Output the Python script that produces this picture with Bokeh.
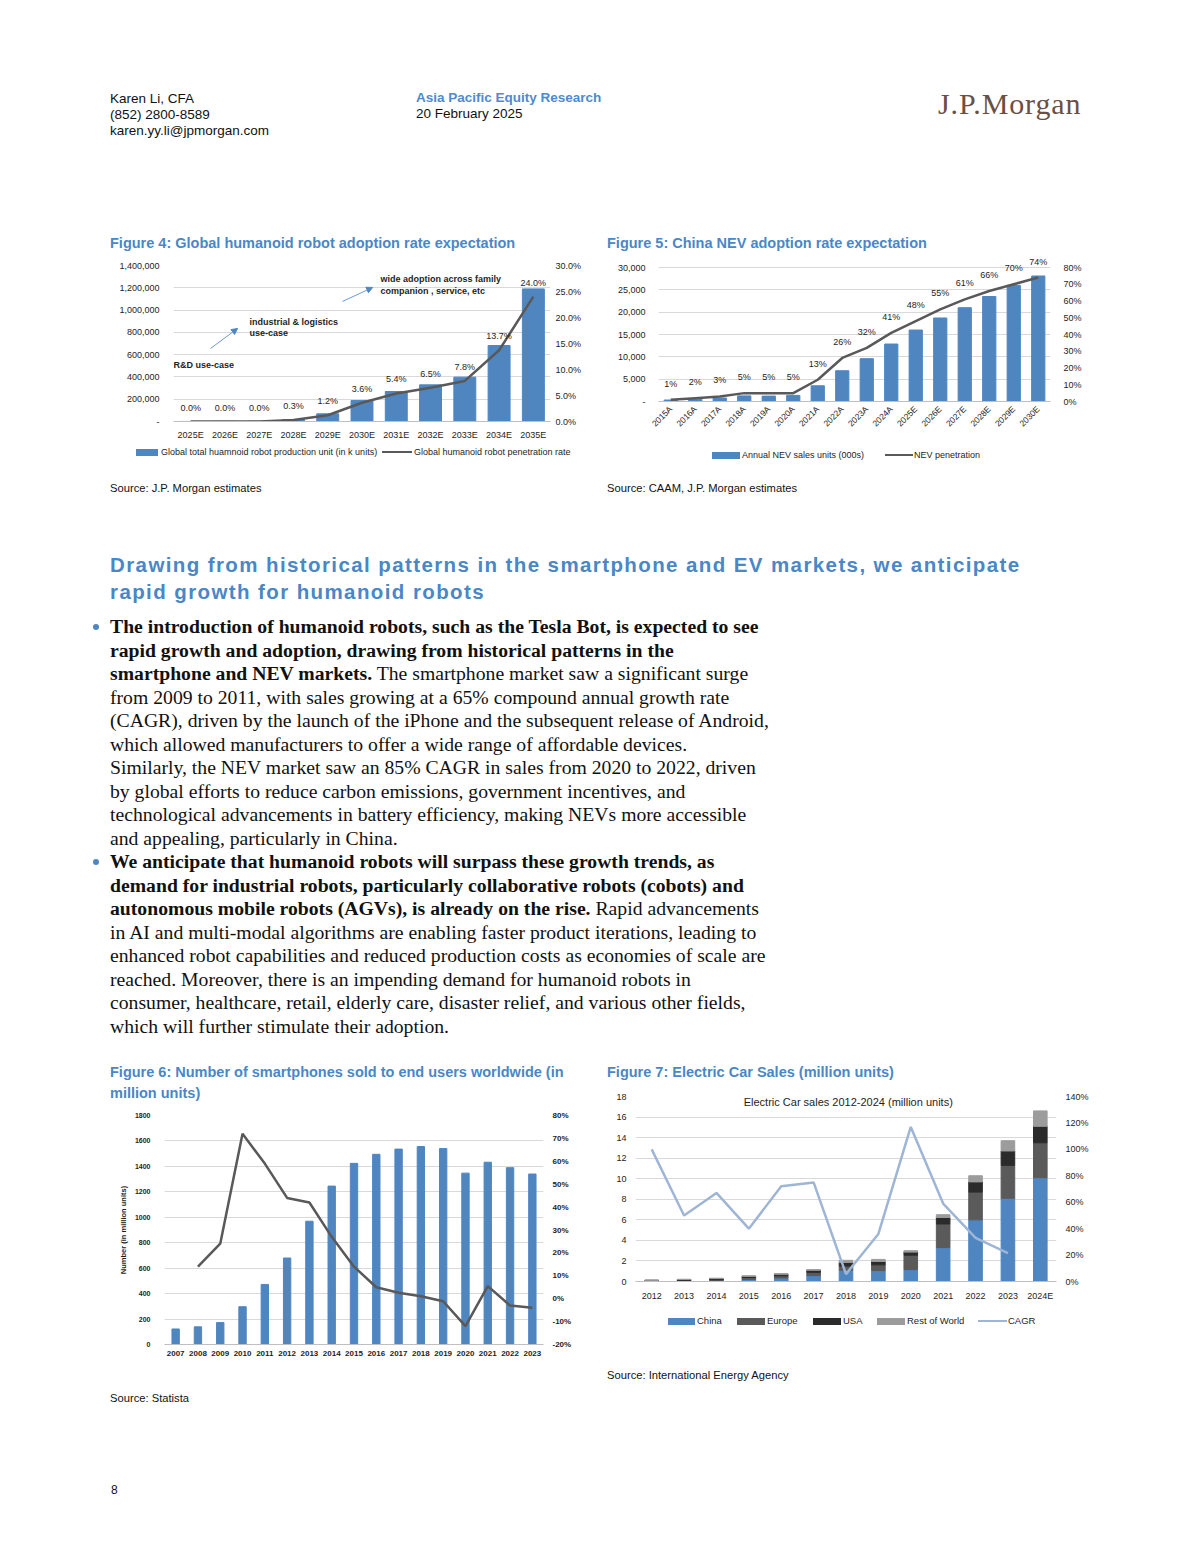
import math
from bokeh.plotting import figure
from bokeh.models import (Range1d, LinearAxis, FactorRange, ColumnDataSource, LabelSet, Label,
                          Arrow, NormalHead, Div, NumeralTickFormatter, PrintfTickFormatter, FixedTicker)
from bokeh.layouts import column, row
from bokeh.embed import file_html
from bokeh.resources import INLINE
from bokeh.core.properties import value

# ---------------- data ----------------
# Figure 4
f4_years = ["2025E", "2026E", "2027E", "2028E", "2029E", "2030E", "2031E", "2032E", "2033E", "2034E", "2035E"]
f4_units = [500, 1500, 2500, 17000, 69000, 188000, 269000, 329000, 398000, 682000, 1190000]
f4_rate = [0.0, 0.0, 0.0, 0.3, 1.2, 3.6, 5.4, 6.5, 7.8, 13.7, 24.0]
f4_left_ticks = [0, 200000, 400000, 600000, 800000, 1000000, 1200000, 1400000]
f4_right_ticks = [0, 5, 10, 15, 20, 25, 30]

# Figure 5
f5_years = ["2015A", "2016A", "2017A", "2018A", "2019A", "2020A", "2021A", "2022A", "2023A", "2024A",
            "2025E", "2026E", "2027E", "2028E", "2029E", "2030E"]
f5_sales = [331, 507, 777, 1256, 1206, 1367, 3521, 6887, 9587, 12866,
            16000, 18700, 21000, 23500, 26000, 28100]
f5_pen = [1, 2, 3, 5, 5, 5, 13, 26, 32, 41, 48, 55, 61, 66, 70, 74]
f5_left_ticks = [0, 5000, 10000, 15000, 20000, 25000, 30000]
f5_right_ticks = [0, 10, 20, 30, 40, 50, 60, 70, 80]

# Figure 6
f6_years = ["2007", "2008", "2009", "2010", "2011", "2012", "2013", "2014", "2015", "2016",
            "2017", "2018", "2019", "2020", "2021", "2022", "2023"]
f6_units = [122, 139, 172, 297, 472, 680, 969, 1245, 1424, 1495, 1536, 1556, 1540, 1347, 1433, 1390, 1340]
f6_growth = [14, 24, 72, 59, 44, 42, 27, 14, 5, 2.6, 1.1, -1.1, -12, 5.5, -3, -4]  # 2008-2023
f6_left_ticks = [0, 200, 400, 600, 800, 1000, 1200, 1400, 1600, 1800]
f6_right_ticks = [-20, -10, 0, 10, 20, 30, 40, 50, 60, 70, 80]

# Figure 7
f7_years = ["2012", "2013", "2014", "2015", "2016", "2017", "2018", "2019", "2020", "2021", "2022", "2023", "2024E"]
f7_china = [0.01, 0.02, 0.07, 0.2, 0.34, 0.58, 1.1, 1.06, 1.16, 3.3, 6.0, 8.1, 10.1]
f7_europe = [0.06, 0.07, 0.1, 0.19, 0.21, 0.31, 0.4, 0.56, 1.4, 2.3, 2.7, 3.2, 3.4]
f7_usa = [0.05, 0.1, 0.12, 0.11, 0.16, 0.2, 0.36, 0.33, 0.3, 0.63, 0.99, 1.4, 1.6]
f7_row = [0.02, 0.03, 0.03, 0.05, 0.04, 0.07, 0.2, 0.2, 0.14, 0.27, 0.6, 1.0, 1.5]
f7_cagr = [100, 50, 67, 40, 72, 75, 5.6, 36, 117, 59, 33, 21.5]  # 2012-2023
f7_left_ticks = [0, 2, 4, 6, 8, 10, 12, 14, 16, 18]
f7_right_ticks = [0, 20, 40, 60, 80, 100, 120, 140]

# ---------------- styles ----------------
BLUE = "#4F86C0"
TITLE_BLUE = "#4A87C6"
DARK = "#595959"
TXT = "#1e1e1e"
SANS = "Liberation Sans"
SERIF = "Liberation Serif"
EU_C, US_C, ROW_C, CAGR_C = "#5A5A5A", "#2B2B2B", "#9C9C9C", "#9FB5D6"


def style_axis(ax, fs, standoff, bold=False):
    ax.axis_line_color = None
    ax.major_tick_line_color = None
    ax.minor_tick_line_color = None
    ax.major_tick_out = 0
    ax.major_tick_in = 0
    ax.major_label_text_font = SANS
    ax.major_label_text_font_size = f"{fs}px"
    ax.major_label_text_color = TXT
    ax.major_label_standoff = standoff
    if bold:
        ax.major_label_text_font_style = "bold"


def base_fig(cats, w, h, yr, ml, mr, mt, mb):
    p = figure(width=w, height=h, x_range=FactorRange(*cats), y_range=yr,
               toolbar_location=None, output_backend="svg", title=None,
               min_border_left=ml, min_border_right=mr, min_border_top=mt, min_border_bottom=mb,
               margin=0)
    p.outline_line_color = None
    p.xgrid.grid_line_color = None
    p.ygrid.grid_line_color = "#d9d9d9"
    p.ygrid.grid_line_width = 1
    p.background_fill_color = "white"
    p.border_fill_color = "white"
    return p


# ---------------- Figure 4 ----------------
p4 = base_fig(f4_years, 597, 187, Range1d(0, 1400000), 165, 55, 10, 21)
p4.extra_y_ranges = {"pct": Range1d(0, 30)}
lt4 = FixedTicker(ticks=f4_left_ticks)
p4.yaxis.ticker = lt4
p4.ygrid.ticker = lt4
p4.yaxis.formatter = NumeralTickFormatter(format="0,0")
p4.yaxis.major_label_overrides = {0: "-"}
style_axis(p4.yaxis[0], 9, 14)
r4 = LinearAxis(y_range_name="pct", ticker=FixedTicker(ticks=f4_right_ticks),
                formatter=PrintfTickFormatter(format="%.1f%%"))
style_axis(r4, 9, 5)
p4.add_layout(r4, "right")
style_axis(p4.xaxis[0], 9, 8)
p4.xaxis.axis_line_color = "#bfbfbf"

s4 = ColumnDataSource(dict(x=f4_years, units=f4_units, rate=f4_rate,
                           lab=[f"{v:.1f}%" for v in f4_rate]))
p4.vbar(x="x", top="units", width=0.64, color=BLUE, source=s4)
p4.line(x="x", y="rate", y_range_name="pct", line_color=DARK, line_width=2.5, source=s4)
p4.add_layout(LabelSet(x="x", y="rate", text="lab", y_range_name="pct", y_offset=14, source=s4,
                       text_align="center", text_baseline="middle", text_font=value(SANS),
                       text_font_size="9px", text_color=TXT))
for txt, x, y in [("R&D use-case", 0.0, 511000), ("industrial & logistics", 2.22, 897000),
                  ("use-case", 2.22, 790000), ("wide adoption across family", 6.04, 1283000),
                  ("companion , service, etc", 6.04, 1167000)]:
    p4.add_layout(Label(x=x, y=y, text=txt, text_font=SANS, text_font_size="9px",
                        text_font_style="bold", text_color=TXT, text_baseline="middle", text_align="left"))
for xs, ys, xe, ye in [(1.08, 655000, 1.87, 835000), (4.93, 1077000, 5.81, 1203000)]:
    p4.add_layout(Arrow(x_start=xs, y_start=ys, x_end=xe, y_end=ye, line_color="#6C9BD2", line_width=1,
                        end=NormalHead(size=6, fill_color="#4F86C0", line_color="#4F86C0")))

# ---------------- Figure 5 ----------------
p5 = base_fig(f5_years, 587, 190, Range1d(0, 30000 * 146 / 134), 53, 142, 0, 44)
p5.extra_y_ranges = {"pct": Range1d(0, 80 * 146 / 134)}
lt5 = FixedTicker(ticks=f5_left_ticks)
p5.yaxis.ticker = lt5
p5.ygrid.ticker = lt5
p5.yaxis.formatter = NumeralTickFormatter(format="0,0")
p5.yaxis.major_label_overrides = {0: "-"}
style_axis(p5.yaxis[0], 9, 13)
r5 = LinearAxis(y_range_name="pct", ticker=FixedTicker(ticks=f5_right_ticks),
                formatter=PrintfTickFormatter(format="%d%%"))
style_axis(r5, 9, 13)
p5.add_layout(r5, "right")
style_axis(p5.xaxis[0], 8.5, 6)
p5.xaxis.axis_line_color = "#bfbfbf"
p5.xaxis.major_label_orientation = math.pi / 4

s5 = ColumnDataSource(dict(x=f5_years, sales=f5_sales, pen=f5_pen, lab=[f"{v}%" for v in f5_pen]))
p5.vbar(x="x", top="sales", width=0.54, color=BLUE, source=s5)
p5.line(x="x", y="pen", y_range_name="pct", line_color=DARK, line_width=2.5, source=s5)
p5.add_layout(LabelSet(x="x", y="pen", text="lab", y_range_name="pct", y_offset=16, source=s5,
                       text_align="center", text_baseline="middle", text_font=value(SANS),
                       text_font_size="9px", text_color=TXT))

# ---------------- Figure 6 ----------------
p6 = base_fig(f6_years, 597, 271, Range1d(0, 1800), 156, 62, 11, 31)
p6.extra_y_ranges = {"pct": Range1d(-20, 80)}
lt6 = FixedTicker(ticks=f6_left_ticks)
p6.yaxis.ticker = lt6
p6.ygrid.ticker = lt6
style_axis(p6.yaxis[0], 7, 14, bold=True)
p6.yaxis.axis_label = "Number (in million units)"
p6.yaxis.axis_label_text_font = SANS
p6.yaxis.axis_label_text_font_size = "7.5px"
p6.yaxis.axis_label_text_font_style = "bold"
p6.yaxis.axis_label_text_color = TXT
p6.yaxis.axis_label_standoff = 4
r6 = LinearAxis(y_range_name="pct", ticker=FixedTicker(ticks=f6_right_ticks),
                formatter=PrintfTickFormatter(format="%d%%"))
style_axis(r6, 8, 9, bold=True)
p6.add_layout(r6, "right")
style_axis(p6.xaxis[0], 8, 6, bold=True)
p6.xaxis.axis_line_color = "#bfbfbf"

p6.vbar(x=f6_years, top=f6_units, width=0.33, color=BLUE)
p6.line(x=f6_years[1:], y=f6_growth, y_range_name="pct", line_color=DARK, line_width=2.5)

# ---------------- Figure 7 ----------------
p7 = base_fig(f7_years, 587, 227, Range1d(0, 18), 30, 136, 12, 30)
p7.extra_y_ranges = {"pct": Range1d(0, 140)}
lt7 = FixedTicker(ticks=f7_left_ticks)
p7.yaxis.ticker = lt7
p7.ygrid.ticker = lt7
style_axis(p7.yaxis[0], 9, 9)
r7 = LinearAxis(y_range_name="pct", ticker=FixedTicker(ticks=f7_right_ticks),
                formatter=PrintfTickFormatter(format="%d%%"))
style_axis(r7, 9, 9)
p7.add_layout(r7, "right")
style_axis(p7.xaxis[0], 9, 9)
p7.xaxis.axis_line_color = "#bfbfbf"

s7 = ColumnDataSource(dict(x=f7_years, China=f7_china, Europe=f7_europe, USA=f7_usa, RoW=f7_row))
stack_cols = ["China", "Europe", "USA", "RoW"]
stack_colors = [BLUE, EU_C, US_C, ROW_C]
p7.vbar_stack(stack_cols, x="x", width=0.42, color=stack_colors, source=s7)
p7.line(x=f7_years[:-1], y=f7_cagr, y_range_name="pct", line_color=CAGR_C, line_width=2.5)
p7.add_layout(Label(x=6.57, y=17.42, text="Electric Car sales 2012-2024 (million units)",
                    text_font=SANS, text_font_size="11px", text_color=TXT,
                    text_align="center", text_baseline="middle"))


# ---------------- text blocks ----------------
def t(txt, left, top, size, lh, color="#000", weight="normal", family=SANS, extra=""):
    return (f'<div style="position:absolute;left:{left}px;top:{top}px;font-family:\'{family}\';'
            f'font-size:{size}px;line-height:{lh}px;color:{color};font-weight:{weight};'
            f'white-space:nowrap;{extra}">{txt}</div>')


def sw(left, cy, w, h, color):
    return (f'<div style="position:absolute;left:{left}px;top:{cy - h / 2}px;width:{w}px;'
            f'height:{h}px;background:{color};"></div>')


def legend_html(items, cy, fs):
    out = ""
    for label, kind, color, sx, sw_w, tx in items:
        out += sw(sx, cy, sw_w, 7 if kind == "bar" else 2.5, color)
        out += t(label, tx, cy - 6, fs, 12, TXT)
    return out


def box(w, h, inner):
    return Div(text=f'<div style="position:relative;width:{w}px;height:{h}px;">{inner}</div>',
               width=w, height=h, margin=0, styles={"overflow": "visible"})


header = box(1184, 227,
             t("Karen Li, CFA<br>(852) 2800-8589<br>karen.yy.li@jpmorgan.com", 102, 83, 13.5, 16, "#111")
             + t("Asia Pacific Equity Research", 408, 82, 13.5, 16, "#4F8AD0", "bold")
             + t("20 February 2025", 408, 98, 13.5, 16, "#111")
             + t("J.P.Morgan", 930, 81, 30, 30, "#6A5042", "normal", SERIF, "letter-spacing:0.9px;"))

t4 = box(597, 20, t("Figure 4: Global humanoid robot adoption rate expectation", 102, 0, 14.5, 16, TITLE_BLUE, "bold"))
t5 = box(587, 20, t("Figure 5: China NEV adoption rate expectation", 2, 0, 14.5, 16, TITLE_BLUE, "bold"))
src4 = box(597, 58,
           legend_html([("Global total huamnoid robot production unit (in k units)", "bar", BLUE, 128, 22, 153),
                        ("Global humanoid robot penetration rate", "line", DARK, 374, 30, 406)], 10, 9)
           + t("Source: J.P. Morgan estimates", 102, 39, 11.2, 14, "#111"))
src5 = box(587, 55,
           legend_html([("Annual NEV sales units (000s)", "bar", BLUE, 107, 28, 137),
                        ("NEV penetration", "line", DARK, 280, 28, 309)], 10, 9)
           + t("Source: CAAM, J.P. Morgan estimates", 2, 36, 11.2, 14, "#111"))

b1 = ("<b>The introduction of humanoid robots, such as the Tesla Bot, is expected to see</b><br>"
      "<b>rapid growth and adoption, drawing from historical patterns in the</b><br>"
      "<b>smartphone and NEV markets.</b> The smartphone market saw a significant surge<br>"
      "from 2009 to 2011, with sales growing at a 65% compound annual growth rate<br>"
      "(CAGR), driven by the launch of the iPhone and the subsequent release of Android,<br>"
      "which allowed manufacturers to offer a wide range of affordable devices.<br>"
      "Similarly, the NEV market saw an 85% CAGR in sales from 2020 to 2022, driven<br>"
      "by global efforts to reduce carbon emissions, government incentives, and<br>"
      "technological advancements in battery efficiency, making NEVs more accessible<br>"
      "and appealing, particularly in China.<br>"
      "<b>We anticipate that humanoid robots will surpass these growth trends, as</b><br>"
      "<b>demand for industrial robots, particularly collaborative robots (cobots) and</b><br>"
      "<b>autonomous mobile robots (AGVs), is already on the rise.</b> Rapid advancements<br>"
      "in AI and multi-modal algorithms are enabling faster product iterations, leading to<br>"
      "enhanced robot capabilities and reduced production costs as economies of scale are<br>"
      "reached. Moreover, there is an impending demand for humanoid robots in<br>"
      "consumer, healthcare, retail, elderly care, disaster relief, and various other fields,<br>"
      "which will further stimulate their adoption.")
dot = '<div style="position:absolute;left:85px;top:{}px;width:6px;height:6px;border-radius:3px;background:#4F86C0;"></div>'
body = box(1184, 562,
           t("Drawing from historical patterns in the smartphone and EV markets, we anticipate<br>"
             "rapid growth for humanoid robots", 102, 50.5, 20.5, 27, TITLE_BLUE, "bold",
             SANS, "letter-spacing:1.4px;")
           + t(b1, 102, 115.25, 19.7, 23.5, "#111", "normal", SERIF)
           + dot.format(124) + dot.format(359))

t6 = box(597, 42, t("Figure 6: Number of smartphones sold to end users worldwide (in<br>million units)",
                    102, 0, 14.5, 21, TITLE_BLUE, "bold"))
t7 = box(587, 22, t("Figure 7: Electric Car Sales (million units)", 2, 0, 14.5, 21, TITLE_BLUE, "bold"))
src6 = box(597, 40, t("Source: Statista", 102, 16, 11.2, 14, "#111"))
src7 = box(587, 79,
           legend_html([("China", "bar", BLUE, 63, 27, 92),
                        ("Europe", "bar", EU_C, 132, 28, 162),
                        ("USA", "bar", US_C, 208, 28, 238),
                        ("Rest of World", "bar", ROW_C, 272, 28, 302),
                        ("CAGR", "line", CAGR_C, 373, 29, 403)], 10, 9.5)
           + t("Source: International Energy Agency", 2, 57, 11.2, 14, "#111"))
footer = box(1184, 132, t("8", 103, 68, 12, 14, "#111"))

layout = column(
    header,
    row(column(t4, p4, src4, spacing=0, margin=0),
        column(t5, p5, src5, spacing=0, margin=0), spacing=0, margin=0),
    body,
    row(column(t6, p6, src6, spacing=0, margin=0),
        column(t7, p7, src7, spacing=0, margin=0), spacing=0, margin=0),
    footer,
    spacing=0, margin=(8, 0, 0, 8),
)

open("out.html", "w").write(file_html(layout, INLINE))
